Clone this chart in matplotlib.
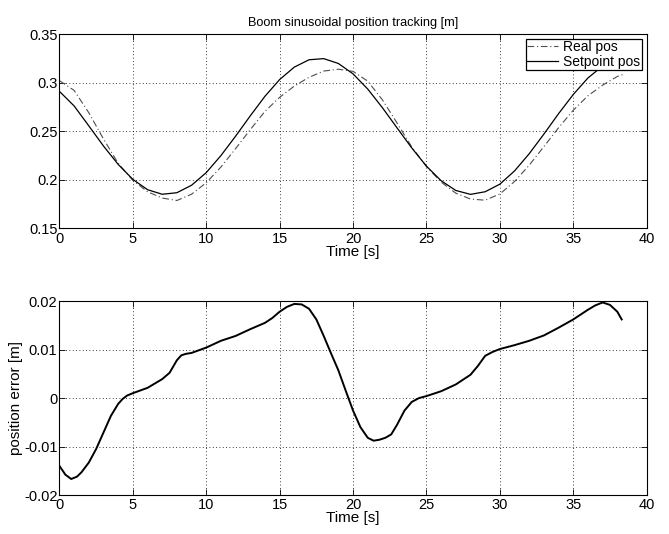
import matplotlib
matplotlib.use("Agg")
import matplotlib.pyplot as plt

plt.rcParams['font.family'] = ['Liberation Sans', 'DejaVu Sans']

# position tracking (top)
t_pos = [0, 1, 2, 3, 4, 5, 6, 7, 8, 9, 10, 11, 12, 13, 14, 15, 16, 17, 18, 19,
         20, 21, 22, 23, 24, 25, 26, 27, 28, 29, 30, 31, 32, 33, 34, 35, 36, 37, 38, 38.5]
setpoint_pos = [0.291, 0.276, 0.2555, 0.2348, 0.2159, 0.2005, 0.1899, 0.1852, 0.1868, 0.1945,
                0.2075, 0.225, 0.245, 0.2659, 0.286, 0.3032, 0.316, 0.3235, 0.3247, 0.3197,
                0.309, 0.2934, 0.2742, 0.2534, 0.2328, 0.2141, 0.1991, 0.1891, 0.1851, 0.1878,
                0.1956, 0.2092, 0.2269, 0.2471, 0.2681, 0.2878, 0.3048, 0.3171, 0.3239, 0.3249]
real_pos = [0.302, 0.292, 0.269, 0.242, 0.217, 0.1995, 0.1878, 0.1813, 0.1788, 0.1853,
            0.1971, 0.2132, 0.2322, 0.2517, 0.2705, 0.2849, 0.2965, 0.3055, 0.3119, 0.3138,
            0.3116, 0.3015, 0.2823, 0.2584, 0.2338, 0.2137, 0.1977, 0.1863, 0.1803, 0.1791,
            0.1855, 0.1983, 0.2151, 0.2342, 0.2536, 0.2716, 0.2865, 0.2974, 0.3063, 0.309]

# position error (bottom)
t_err = [0, 0.4, 0.8, 1.2, 1.5, 2, 2.5, 3, 3.5, 4, 4.3, 4.6, 5, 6, 7, 7.5, 8, 8.3, 8.6,
         9, 10, 11, 12, 13, 14, 14.5, 15, 15.5, 16, 16.5, 17, 17.5, 18, 18.5, 19, 19.5,
         20, 20.5, 21, 21.4, 21.8, 22.2, 22.6, 23, 23.5, 24, 24.5, 25, 26, 27, 28, 28.5,
         29, 29.5, 30, 31, 32, 33, 34, 35, 36, 36.5, 37, 37.5, 38, 38.3]
pos_error = [-0.014, -0.0158, -0.0167, -0.0162, -0.0153, -0.0133, -0.0105, -0.0071,
             -0.0037, -0.0012, -0.0002, 0.0005, 0.001, 0.0021, 0.0039, 0.0052, 0.0078,
             0.0088, 0.0091, 0.0093, 0.0104, 0.0118, 0.0128, 0.0142, 0.0155, 0.0165,
             0.0178, 0.0188, 0.0194, 0.0193, 0.0184, 0.0162, 0.0128, 0.0092, 0.0057,
             0.0015, -0.0026, -0.006, -0.0082, -0.0088, -0.0086, -0.0082, -0.0075, -0.0055,
             -0.0026, -0.0008, 0.0, 0.0004, 0.0014, 0.0028, 0.0048, 0.0066, 0.0087, 0.0095,
             0.0101, 0.0109, 0.0118, 0.0129, 0.0145, 0.0162, 0.0182, 0.0191, 0.0197, 0.0192,
             0.0178, 0.0162]

x_ticks = [0, 5, 10, 15, 20, 25, 30, 35, 40]
top_yticks = [0.15, 0.2, 0.25, 0.3, 0.35]
top_ylabels = ['0.15', '0.2', '0.25', '0.3', '0.35']
bot_yticks = [-0.02, -0.01, 0, 0.01, 0.02]
bot_ylabels = ['-0.02', '-0.01', '0', '0.01', '0.02']


def style(ax):
    ax.grid(True, color='black', linestyle=(0, (1, 3)), linewidth=0.6)
    ax.tick_params(direction='in', length=4.5, width=0.6, top=True, right=True,
                   labelsize=10.5)
    ax.tick_params(axis='x', pad=2.5)
    ax.tick_params(axis='y', pad=1.5)
    for s in ax.spines.values():
        s.set_linewidth(0.8)
    ax.set_xlim(0, 40)
    ax.set_xticks(x_ticks)
    ax.set_xticklabels([str(v) for v in x_ticks])
    ax.set_xlabel('Time [s]', fontsize=11, labelpad=-1)


fig = plt.figure(figsize=(6.69, 5.34), dpi=100)
ax1 = fig.add_axes([0.0889, 0.5721, 0.8777, 0.3642])
ax2 = fig.add_axes([0.0889, 0.0730, 0.8777, 0.3633])

ax1.plot(t_pos, real_pos, color='0.3', linestyle=(0, (6, 2.5, 1, 2.5)), linewidth=0.8,
         label='Real pos')
ax1.plot(t_pos, setpoint_pos, color='black', linewidth=0.9, label='Setpoint pos')
style(ax1)
ax1.set_ylim(0.15, 0.35)
ax1.set_yticks(top_yticks)
ax1.set_yticklabels(top_ylabels)
ax1.set_title('Boom sinusoidal position tracking [m]', fontsize=9.2, pad=6)
leg = ax1.legend(loc='upper right', fontsize=10, fancybox=False, framealpha=1,
                 edgecolor='black', borderaxespad=0.35, borderpad=0.1,
                 handlelength=2.2, handletextpad=0.4, labelspacing=0.05)
leg.get_frame().set_linewidth(0.9)

ax2.plot(t_err, pos_error, color='black', linewidth=1.4)
style(ax2)
ax2.set_ylim(-0.02, 0.02)
ax2.set_yticks(bot_yticks)
ax2.set_yticklabels(bot_ylabels)
ax2.set_ylabel('position error [m]', fontsize=11, labelpad=1)

fig.savefig('out.png', dpi=100)
